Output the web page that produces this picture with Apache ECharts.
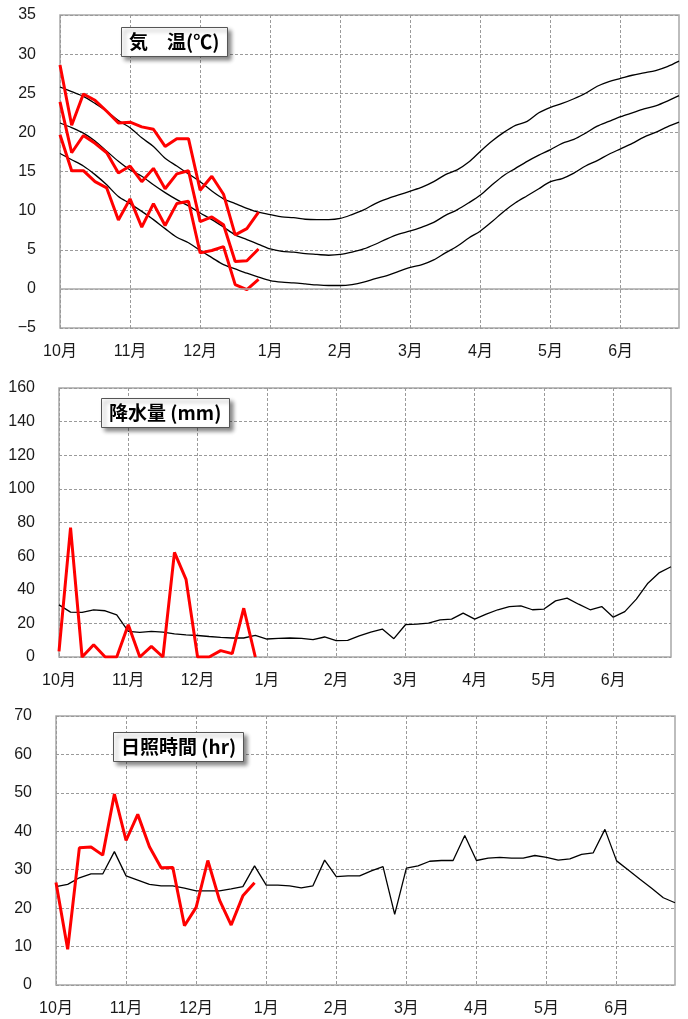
<!DOCTYPE html>
<html><head><meta charset="utf-8">
<script src="https://cdn.jsdelivr.net/npm/echarts@6/dist/echarts.min.js"></script>
<style>html,body{margin:0;padding:0;background:#fff}#c{width:688px;height:1019px}</style>
</head><body><div id="c"></div>
<script>
// Month tick labels (6 pentads per month, Oct..Jun)
const months = ['10月','11月','12月','1月','2月','3月','4月','5月','6月'];
const categories = [];
months.forEach(m => { for (let k = 1; k <= 6; k++) categories.push(m + k); });

// Temperature (°C) observed — max / mean / min (Oct–Dec pentads)
const tMaxObs  = [28.6,20.9,24.9,24.1,22.7,21.2,21.3,20.7,20.4,18.2,19.2,19.2,12.6,14.4,12.1,6.9,7.7,9.8];
const tMeanObs = [23.9,17.4,19.6,18.6,17.4,14.8,15.7,13.7,15.4,12.8,14.7,15.1,8.6,9.2,8.2,3.5,3.6,5.1];
const tMinObs  = [19.7,15.1,15.1,13.7,12.9,8.8,11.5,7.9,10.9,8.1,10.9,11.2,4.6,4.9,5.4,0.55,-0.1,1.2];
// Temperature normals
const tMaxNorm = [25.8,25.2,24.6,23.7,22.7,21.5,20.6,19.3,18.2,16.7,15.7,14.7,13.7,12.5,11.5,10.9,10.3,9.8,9.5,9.2,9.1,8.9,8.85,8.85,9.0,9.5,10.1,10.9,11.5,12.0,12.5,13.0,13.7,14.6,15.2,16.2,17.6,18.9,20.0,20.9,21.4,22.5,23.2,23.7,24.3,25.0,25.9,26.5,26.9,27.3,27.6,27.9,28.4,29.1];
const tMeanNorm = [21.2,20.6,19.9,18.9,17.6,16.3,15.2,14.4,13.3,12.3,11.4,10.6,9.7,8.85,7.9,6.9,6.3,5.7,5.1,4.8,4.7,4.5,4.4,4.3,4.4,4.7,5.1,5.7,6.4,7.0,7.4,7.9,8.5,9.4,10.1,11.0,12.0,13.3,14.5,15.4,16.3,17.1,17.8,18.6,19.1,19.9,20.8,21.4,22.0,22.5,23.0,23.4,24.0,24.7];
const tMinNorm = [17.3,16.5,15.7,14.6,13.3,11.8,10.9,9.9,8.85,7.7,6.6,5.9,4.9,4.0,3.1,2.55,2.0,1.5,1.05,0.85,0.77,0.64,0.5,0.43,0.43,0.55,0.85,1.3,1.7,2.25,2.75,3.1,3.7,4.6,5.45,6.5,7.4,8.6,9.9,11.0,11.9,12.8,13.7,14.1,14.8,15.7,16.4,17.2,17.9,18.6,19.4,20.0,20.7,21.3];

// Precipitation (mm)
const precipObs  = [3.4,77,0,7.3,0,0,19.2,0,6.3,0,62.2,46.2,0,0,3.8,2.0,29,0];
const precipNorm = [31,26.7,26.5,28,27.5,25,15.2,14.6,15.2,14.8,13.8,13.2,12.8,12.2,11.7,11.3,11.3,12.8,10.7,11.1,11.3,11.1,10.3,11.9,9.7,9.9,12.6,14.8,16.6,10.9,19.2,19.6,20.2,22.1,22.5,26.1,22.5,25.5,28.1,30,30.4,28.1,28.5,33.4,35,31.4,28.1,30,23.7,27,34.4,43.9,50.2,53.7];

// Sunshine duration (hr)
const sunObs  = [26.7,9.3,35.7,35.9,33.8,49.7,37.6,44.4,36,30.5,30.6,15.4,20.2,32.4,22.1,15.6,23.2,26.6];
const sunNorm = [25.6,26.2,27.9,28.9,28.9,34.7,28.4,27.3,26.2,25.8,25.8,25.2,24.5,24.5,24.5,25,25.6,31,26,26,25.8,25.3,25.8,32.5,28.2,28.4,28.4,29.7,30.8,18.4,30.4,31,32.2,32.4,32.4,38.9,32.4,33,33.2,33,33,33.7,33.2,32.5,32.8,34,34.4,40.5,32.3,29.9,27.5,25.2,22.7,21.4];

const FONT = '"Liberation Sans", Arial, "Noto Sans CJK JP", sans-serif';
const gridDefs = [
  {left:60, top:15, right:9, height:313},
  {left:59, top:388, right:17, height:269},
  {left:56, top:716, right:13, height:269}
];
const yDefs = [{min:-5,max:35,interval:5},{min:0,max:160,interval:20},{min:0,max:70,interval:10}];

const chart = echarts.init(document.getElementById('c'), null, {renderer:'canvas'});
const grids = gridDefs.map(g => Object.assign({show:true, borderColor:'#a8a8a8', borderWidth:1.5, backgroundColor:'#fff', containLabel:false}, g));
const xAxes = gridDefs.map((g,i) => ({
  type:'category', gridIndex:i, data:categories, boundaryGap:false,
  axisLine:{show:false}, axisTick:{show:false},
  axisLabel:{interval:5, margin:16, color:'#1a1a1a', fontSize:16, fontFamily:FONT,
    formatter:(v)=>v.replace(/\d$/,'')},
  splitLine:{show:true, interval:5, lineStyle:{color:'#9a9a9a', type:[3,2], width:1}}
}));
const yAxes = yDefs.map((d,i) => ({
  type:'value', gridIndex:i, min:d.min, max:d.max, interval:d.interval,
  axisLine:{show:false}, axisTick:{show:false},
  axisLabel:{margin:24, color:'#1a1a1a', fontSize:16, fontFamily:FONT, formatter:(v)=>String(v).replace('-','−')},
  splitLine:{show:true, lineStyle:{color:'#9a9a9a', type:[3,2], width:1}}
}));

function blk(data, gi, smooth){return {type:'line', xAxisIndex:gi, yAxisIndex:gi, data, symbol:'none', smooth: smooth?0.3:false, lineStyle:{color:'#000', width:1.3}, silent:true, z:3};}
function red(data, gi){return {type:'line', xAxisIndex:gi, yAxisIndex:gi, data, symbol:'none', lineStyle:{color:'#ff0000', width:3}, silent:true, z:4};}

const zeroLine = {type:'line', xAxisIndex:0, yAxisIndex:0, data:[], symbol:'none',
  markLine:{silent:true, symbol:'none', label:{show:false}, lineStyle:{color:'#a8a8a8', type:'solid', width:1.5}, data:[{yAxis:0}]}};

function ttl(text, left, top){
  return {text, left, top, padding:[4,8,4,8], backgroundColor:'#fff', borderColor:'#555', borderWidth:1,
    shadowBlur:4, shadowColor:'rgba(0,0,0,0.45)', shadowOffsetX:3, shadowOffsetY:3,
    textStyle:{fontSize:19, lineHeight:22, fontWeight:'bold', color:'#000', fontFamily:'"Noto Sans CJK JP", sans-serif'}};
}

chart.setOption({
  animation:false,
  backgroundColor:'#fff',
  title:[ttl('気　温(℃)',121,27), ttl('降水量 (mm)',101,398), ttl('日照時間 (hr)',113,732)],
  grid:grids, xAxis:xAxes, yAxis:yAxes,
  series:[
    zeroLine,
    blk(tMaxNorm,0,true), blk(tMeanNorm,0,true), blk(tMinNorm,0,true),
    red(tMaxObs,0), red(tMeanObs,0), red(tMinObs,0),
    blk(precipNorm,1,false), red(precipObs,1),
    blk(sunNorm,2,false), red(sunObs,2)
  ]
});
</script></body></html>
